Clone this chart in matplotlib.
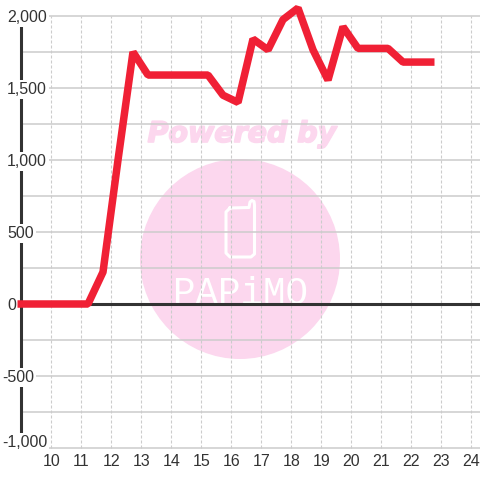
import matplotlib
matplotlib.use("Agg")
import matplotlib.pyplot as plt
import matplotlib.patheffects as pe
from matplotlib.patches import Circle

hours = [8.9, 11.25, 11.75, 12.25, 12.75, 13.25, 13.75, 14.25, 14.75, 15.25, 15.75, 16.25, 16.75, 17.25,
         17.75, 18.25, 18.75, 19.25, 19.75, 20.25, 20.75, 21.25, 21.75, 22.25, 22.8]
values = [0, 0, 222, 1000, 1750, 1590, 1590, 1590, 1590, 1590, 1450, 1400, 1840, 1765,
          1975, 2055, 1765, 1555, 1925, 1775, 1775, 1775, 1680, 1680, 1680]

x_ticks = list(range(10, 25))
y_major = [-1000, -500, 0, 500, 1000, 1500, 2000]
y_grid = [-1000, -750, -500, -250, 0, 250, 500, 750, 1000, 1250, 1500, 1750, 2000]
y_labels = ["-1,000", "-500", "0", "500", "1,000", "1,500", "2,000"]

pink = "#fcd7ee"
dark = "#333333"
grid = "#cccccc"
plt.rcParams["font.family"] = ["Liberation Sans", "DejaVu Sans"]

fig = plt.figure(figsize=(4.8, 4.8), dpi=100)

# filigrane en pixels, sous le graphique
wm = fig.add_axes([0, 0, 1, 1])
wm.set_xlim(0, 480)
wm.set_ylim(480, 0)
wm.axis("off")
wm.add_patch(Circle((240, 259), 100, color=pink, lw=0))
phone_x = [230, 249, 250, 252, 254, 254.5, 254.5, 251, 230, 226, 226, 230]
phone_y = [208, 207.5, 202, 200.5, 201.5, 205, 254, 257, 257, 253, 212, 208]
wm.plot(phone_x, phone_y, color="white", lw=2.2, solid_joinstyle="round")
wm.text(242, 134, "Powered by", color=pink, fontsize=20.5, fontweight="bold", fontstyle="italic",
        family="DejaVu Sans", ha="center", va="center",
        path_effects=[pe.withStroke(linewidth=1.2, foreground=pink)])
wm.text(240, 304, "PAPiMO", color="white", fontsize=27, family="Liberation Mono",
        ha="center", va="baseline")

ax = fig.add_axes([0, 0, 1, 1], zorder=2)
ax.patch.set_alpha(0)
ax.set_xlim(10 - 50.5 / 30, 24 + 9.5 / 30)
ax.set_ylim(-1000 - 32 / 0.144, 2000 + 16 / 0.144)
for s in ax.spines.values():
    s.set_visible(False)
ax.set_xticks([])
ax.set_yticks([])

ax.hlines(y_grid, 9, ax.get_xlim()[1], color=grid, lw=1.1, zorder=1)
ax.vlines(x_ticks, -1000, 2000, color=grid, lw=0.8, linestyles=(0, (2.7, 1.8)), zorder=1)
ax.hlines(0, 9, ax.get_xlim()[1], color=dark, lw=2.2, zorder=2)
ax.plot([9, 9], [-1000, 2000], color=dark, lw=2.2, zorder=2, solid_capstyle="butt")
ax.plot(hours, values, color="#f02035", lw=5.4, zorder=4, solid_joinstyle="bevel",
        solid_capstyle="butt", clip_on=False)

# les étiquettes sont calées à gauche, le signe moins dépasse
for v, lab in zip(y_major, y_labels):
    left = 2 if lab.startswith("-") else 7
    pos = v + 40 if v == -1000 else v - 10
    ax.text(ax.get_xlim()[0] + left / 30, pos, lab, ha="left", va="center", fontsize=11.5, color=dark, zorder=3,
            bbox=dict(fc="white", ec="none", pad=1.6))
for h in x_ticks:
    ax.text(h + 0.03, -1095, str(h), ha="center", va="center", fontsize=11.5, color=dark, zorder=3)

fig.savefig("out.png", dpi=100)
